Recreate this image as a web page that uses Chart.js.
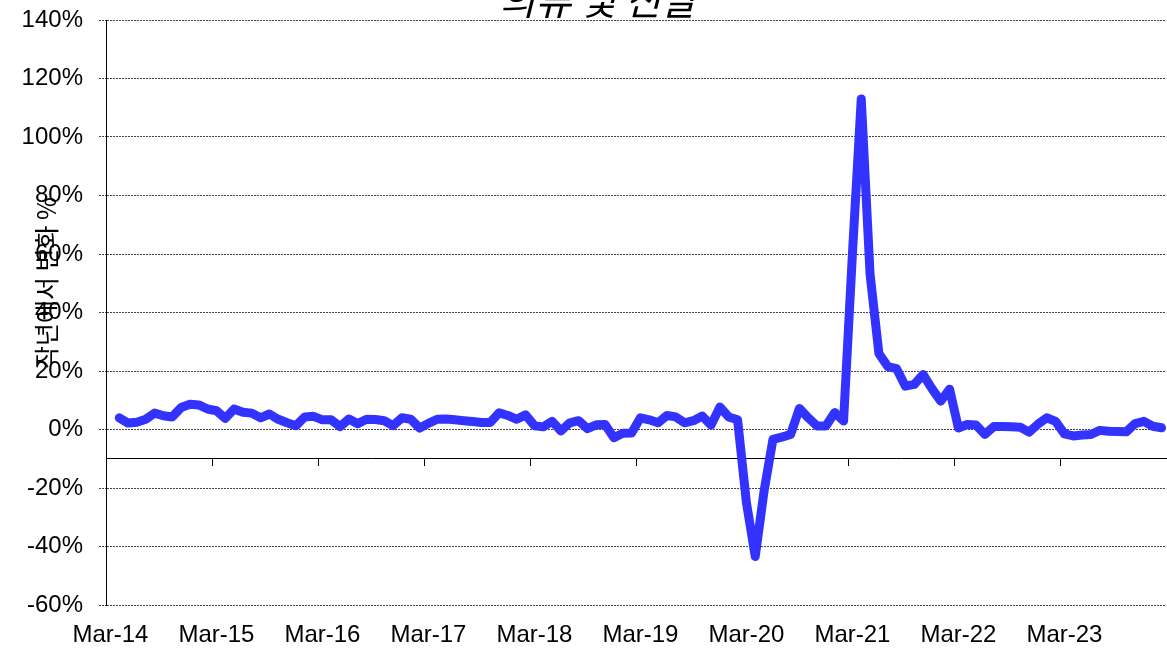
<!DOCTYPE html>
<html>
<head>
<meta charset="utf-8">
<script src="https://cdn.jsdelivr.net/npm/chart.js@4"></script>
<style>
  body { margin: 0; background: #fff; }
  #wrap { width: 1167px; height: 650px; position: relative; }
</style>
</head>
<body>
<div id="wrap"><canvas id="graph"></canvas></div>
<script>
const chartTitle = "의류 및 신발";
const yTitle = "작년에서 변화 %";

const months = [
  'Mar-14','Apr-14','May-14','Jun-14','Jul-14','Aug-14','Sep-14','Oct-14','Nov-14','Dec-14','Jan-15','Feb-15',
  'Mar-15','Apr-15','May-15','Jun-15','Jul-15','Aug-15','Sep-15','Oct-15','Nov-15','Dec-15','Jan-16','Feb-16',
  'Mar-16','Apr-16','May-16','Jun-16','Jul-16','Aug-16','Sep-16','Oct-16','Nov-16','Dec-16','Jan-17','Feb-17',
  'Mar-17','Apr-17','May-17','Jun-17','Jul-17','Aug-17','Sep-17','Oct-17','Nov-17','Dec-17','Jan-18','Feb-18',
  'Mar-18','Apr-18','May-18','Jun-18','Jul-18','Aug-18','Sep-18','Oct-18','Nov-18','Dec-18','Jan-19','Feb-19',
  'Mar-19','Apr-19','May-19','Jun-19','Jul-19','Aug-19','Sep-19','Oct-19','Nov-19','Dec-19','Jan-20','Feb-20',
  'Mar-20','Apr-20','May-20','Jun-20','Jul-20','Aug-20','Sep-20','Oct-20','Nov-20','Dec-20','Jan-21','Feb-21',
  'Mar-21','Apr-21','May-21','Jun-21','Jul-21','Aug-21','Sep-21','Oct-21','Nov-21','Dec-21','Jan-22','Feb-22',
  'Mar-22','Apr-22','May-22','Jun-22','Jul-22','Aug-22','Sep-22','Oct-22','Nov-22','Dec-22','Jan-23','Feb-23',
  'Mar-23','Apr-23','May-23','Jun-23','Jul-23','Aug-23','Sep-23','Oct-23','Nov-23','Dec-23','Jan-24','Feb-24'
];

// % change from a year ago
const yoy = [
  null, 4.0, 2.2, 2.5, 3.5, 5.6, 4.7, 4.3, 7.5, 8.6, 8.4, 7.0,
  6.4, 3.8, 7.0, 5.9, 5.6, 4.0, 5.3, 3.5, 2.3, 1.3, 4.3, 4.5,
  3.3, 3.3, 1.0, 3.6, 2.0, 3.5, 3.4, 3.0, 1.3, 4.0, 3.5, 0.5,
  2.1, 3.5, 3.6, 3.3, 3.0, 2.7, 2.4, 2.4, 5.7, 4.8, 3.5, 5.0,
  1.3, 0.9, 2.8, -0.5, 2.3, 3.0, 0.3, 1.6, 1.7, -2.8, -1.3, -1.2,
  4.0, 3.3, 2.3, 4.8, 4.3, 2.3, 3.0, 4.6, 1.5, 7.7, 4.3, 3.3,
  -25, -43.4, -21, -3.4, -2.6, -1.7, 7.2, 4.0, 1.2, 1.2, 5.8, 2.9,
  60, 113, 53, 26, 21.5, 20.8, 14.8, 15.4, 18.8, 14, 9.7, 13.8,
  0.5, 1.7, 1.5, -1.7, 1.0, 1.0, 0.9, 0.8, -0.9, 1.8, 4.0, 2.8,
  -1.5, -2.2, -1.9, -1.7, -0.3, -0.6, -0.7, -0.8, 2.0, 2.8, 1.1, 0.6
];

const tickLabels = ['Mar-14','Mar-15','Mar-16','Mar-17','Mar-18','Mar-19','Mar-20','Mar-21','Mar-22','Mar-23'];

const font = { family: 'Arial, "Liberation Sans", sans-serif', size: 24 };

const extraText = {
  id: 'extraText',
  afterDraw(chart) {
    const c = chart.ctx;
    c.save();
    c.fillStyle = '#000';
    c.font = 'italic 39px "Noto Sans CJK KR", sans-serif';
    c.textAlign = 'center';
    c.textBaseline = 'alphabetic';
    c.fillText(chartTitle, 598, 15);
    c.translate(46, 283);
    c.rotate(-Math.PI / 2);
    c.font = '25px "Noto Sans CJK KR", sans-serif';
    c.textBaseline = 'middle';
    c.fillText(yTitle, 0, 0);
    c.restore();
  }
};

function noPad(s) {
  s.paddingTop = 0;
  s.paddingBottom = 0;
  s.paddingLeft = 0;
  s.paddingRight = 0;
}

new Chart(document.getElementById('graph'), {
  type: 'line',
  data: {
    labels: months,
    datasets: [{
      data: yoy,
      borderColor: '#3333ff',
      borderWidth: 9,
      pointRadius: 0,
      tension: 0,
      borderJoinStyle: 'round',
      borderCapStyle: 'round',
      xAxisID: 'x',
      yAxisID: 'y'
    }]
  },
  options: {
    responsive: true,
    maintainAspectRatio: false,
    animation: false,
    layout: { padding: { top: 20, right: 1, left: 0, bottom: 0 } },
    plugins: { legend: { display: false }, tooltip: { enabled: false } },
    scales: {
      x: {
        type: 'category',
        position: 'bottom',
        offset: true,
        grid: { display: false, drawTicks: false },
        border: { display: false },
        ticks: {
          autoSkip: false,
          maxRotation: 0,
          padding: 16,
          color: '#000',
          font: font,
          callback: function(v, i) {
            const lab = months[i];
            return tickLabels.includes(lab) ? lab : '';
          }
        },
        afterFit: function(s) { s.height = 45; noPad(s); }
      },
      x2: {
        type: 'category',
        position: { y: -10 },
        offset: true,
        grid: {
          offset: true,
          drawOnChartArea: false,
          drawTicks: true,
          tickLength: 7,
          tickColor: function(ctx) {
            return (ctx.index !== undefined && ctx.index % 12 === 0 && ctx.index > 0) ? '#000' : 'rgba(0,0,0,0)';
          }
        },
        border: { display: true, color: '#000', width: 1 },
        ticks: { display: false, autoSkip: false },
        afterFit: noPad
      },
      y: {
        min: -60,
        max: 140,
        ticks: {
          stepSize: 20,
          padding: 16,
          color: '#000',
          font: font,
          callback: function(v) { return v + '%'; }
        },
        grid: {
          color: '#444',
          tickLength: 7,
          tickBorderDash: [2, 1]
        },
        border: { display: true, color: '#000', width: 1, dash: [2, 1] },
        afterFit: function(s) { s.width = 106; noPad(s); }
      }
    }
  },
  plugins: [extraText]
});
</script>
</body>
</html>
